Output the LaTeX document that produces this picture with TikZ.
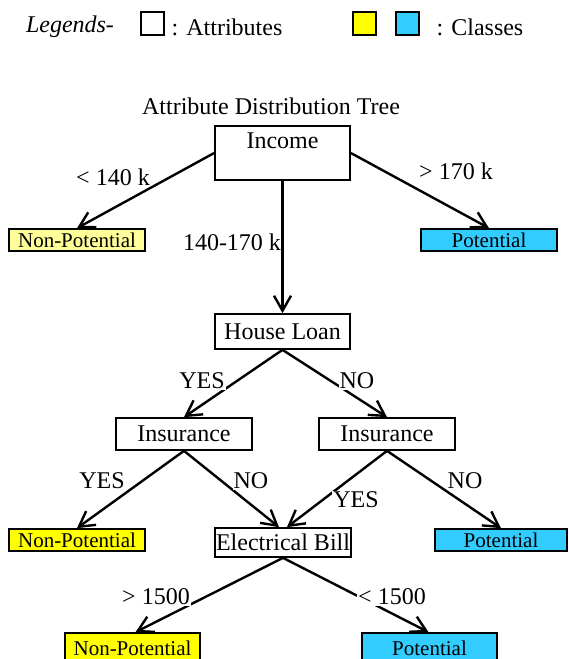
\documentclass[tikz,border=0pt]{standalone}
\usepackage{fontspec}
\setmainfont{Liberation Serif}
\usetikzlibrary{arrows.meta}
\definecolor{lyel}{RGB}{255,255,153}
\definecolor{yel}{RGB}{255,255,0}
\definecolor{cblue}{RGB}{51,204,255}
\begin{document}
\begin{tikzpicture}[x=1pt,y=-1pt,
  font=\fontsize{24}{28}\selectfont,
  box/.style={draw,line width=1.7pt,inner sep=0pt,anchor=center},
  cls/.style={box,font=\fontsize{21}{24}\selectfont},
  edge/.style={line width=2.4pt,-{Straight Barb[length=15pt,width=17pt,line width=2.4pt]}},
  lbl/.style={fill=white,inner sep=1pt}]
\useasboundingbox (0,0) rectangle (569,659);
% legend
\node[font=\fontsize{24}{28}\selectfont\itshape] (leg) at (70,27) {Legends-};
\node[box,minimum width=23,minimum height=23] (la) at (152.5,23.5) {};
\node (lat) at (227,27) {: Attributes};
\node[box,fill=yel,minimum width=23,minimum height=23] (ly) at (364.5,23.5) {};
\node[box,fill=cblue,minimum width=23,minimum height=23] (lb) at (407.5,23.5) {};
\node (lct) at (480,27) {: Classes};
% title
\node (title) at (271,106) {Attribute Distribution Tree};
% nodes
\node[box,minimum width=135,minimum height=54,text height=22,text depth=32] (inc) at (282.5,153) {Income};
\node[cls,fill=lyel,minimum width=136,minimum height=22] (np1) at (77,240) {Non-Potential};
\node[cls,fill=cblue,minimum width=136,minimum height=22] (p1) at (489,240) {Potential};
\node[box,minimum width=135,minimum height=35] (hl) at (282.5,331.5) {House Loan};
\node[box,minimum width=136,minimum height=32] (ins1) at (184,434) {Insurance};
\node[box,minimum width=136,minimum height=32] (ins2) at (387,434) {Insurance};
\node[cls,fill=yel,minimum width=136,minimum height=22] (np2) at (77,540) {Non-Potential};
\node[box,minimum width=136,minimum height=29] (eb) at (283,542.5) {Electrical Bill};
\node[cls,fill=cblue,minimum width=132,minimum height=22] (p2) at (501,540) {Potential};
\node[cls,fill=yel,minimum width=135,minimum height=30] (np3) at (132.5,648) {Non-Potential};
\node[cls,fill=cblue,minimum width=135,minimum height=30] (p3) at (429.5,648) {Potential};
% edges
\draw[edge] (inc.west) -- (np1.north);
\draw[edge] (inc.east) -- (p1.north);
\draw[edge] (inc.south) -- (hl.north);
\draw[edge] (hl.south) -- (ins1.north);
\draw[edge] (hl.south) -- (ins2.north);
\draw[edge] (ins1.south) -- (np2.north);
\draw[edge] (ins1.south) -- ([xshift=-4pt]eb.north);
\draw[edge] (ins2.south) -- ([xshift=4pt]eb.north);
\draw[edge] (ins2.south) -- (p2.north);
\draw[edge] (eb.south) -- ([xshift=3pt]np3.north);
\draw[edge] (eb.south) -- ([xshift=-1pt]p3.north);
% labels
\node[lbl] (l1) at (113,177) {< 140 k};
\node[lbl] (l2) at (456,171) {> 170 k};
\node (l3) at (232,242) {140-170 k};
\node[lbl] (l4) at (202,381) {YES};
\node[lbl] (l5) at (357,381) {NO};
\node[lbl] (l6) at (102,481) {YES};
\node[lbl] (l7) at (251,481) {NO};
\node[lbl] (l8) at (356,500) {YES};
\node[lbl] (l9) at (465,481) {NO};
\node[lbl] (l10) at (156,597) {> 1500};
\node[lbl] (l11) at (392,597) {< 1500};
\end{tikzpicture}
\end{document}
